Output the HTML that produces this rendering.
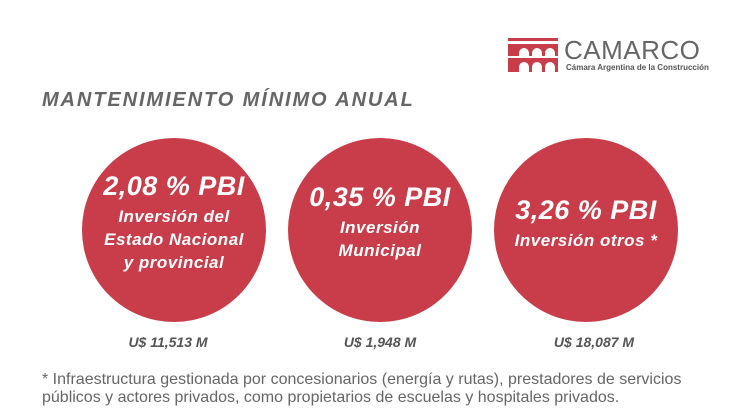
<!DOCTYPE html>
<html><head><meta charset="utf-8"><style>
body{margin:0;width:730px;height:413px;background:#fff;position:relative;overflow:hidden;font-family:"Liberation Sans",sans-serif}
.c{position:absolute;width:184px;height:184px;border-radius:50%;background:#c93c49}
.t{position:absolute;color:#fff;font-weight:bold;font-style:italic;text-align:center;width:240px;white-space:nowrap}
.big{font-size:27px;letter-spacing:0.5px}
.sm{font-size:17px;letter-spacing:0.5px}
.v{position:absolute;color:#555;font-weight:bold;font-style:italic;font-size:14px;text-align:center;width:200px}
.n{position:absolute;left:42px;color:#666;font-size:16px;white-space:nowrap}
</style></head><body>
<svg style="position:absolute;left:508px;top:38px" width="50" height="34" viewBox="0 0 50 34">
<rect x="0" y="0" width="50" height="3" fill="#c93c49"/>
<rect x="0" y="6" width="50" height="3" fill="#c93c49"/>
<path d="M0 9h50v9h-3v-3a5 5 0 0 0-10 0v3h-3v-3a5 5 0 0 0-10 0v3h-3v-3a5 5 0 0 0-10 0v3H0z" fill="#c93c49"/>
<rect x="0" y="20" width="50" height="3" fill="#c93c49"/>
<path d="M0 23h50v11h-3v-5a5 5 0 0 0-10 0v5h-3v-5a5 5 0 0 0-10 0v5h-3v-5a5 5 0 0 0-10 0v5H0z" fill="#c93c49"/>
</svg>
<div style="position:absolute;left:564px;top:35px;font-size:26px;color:#666;letter-spacing:0.5px">CAMARCO</div>
<div style="position:absolute;left:566px;top:63px;font-size:8px;color:#555;font-weight:bold">Cámara Argentina de la Construcción</div>
<div style="position:absolute;left:42px;top:89px;font-size:20px;font-weight:bold;font-style:italic;color:#666;letter-spacing:1.9px">MANTENIMIENTO MÍNIMO ANUAL</div>
<div class="c" style="left:82px;top:138px"></div>
<div class="c" style="left:288px;top:138px"></div>
<div class="c" style="left:494px;top:138px"></div>
<div class="t big" style="left:54px;top:171px">2,08 % PBI</div>
<div class="t sm" style="left:54px;top:207px">Inversión del</div>
<div class="t sm" style="left:54px;top:230px">Estado Nacional</div>
<div class="t sm" style="left:54px;top:253px">y provincial</div>
<div class="t big" style="left:260px;top:182px">0,35 % PBI</div>
<div class="t sm" style="left:260px;top:218px">Inversión</div>
<div class="t sm" style="left:260px;top:241px">Municipal</div>
<div class="t big" style="left:466px;top:195px">3,26 % PBI</div>
<div class="t sm" style="left:466px;top:231px">Inversión otros *</div>
<div class="v" style="left:68px;top:334px">U$ 11,513 M</div>
<div class="v" style="left:280px;top:334px">U$ 1,948 M</div>
<div class="v" style="left:494px;top:334px">U$ 18,087 M</div>
<div class="n" style="top:371px">* Infraestructura gestionada por concesionarios (energía y rutas), prestadores de servicios</div>
<div class="n" style="top:389px">públicos y actores privados, como propietarios de escuelas y hospitales privados.</div>
</body></html>
